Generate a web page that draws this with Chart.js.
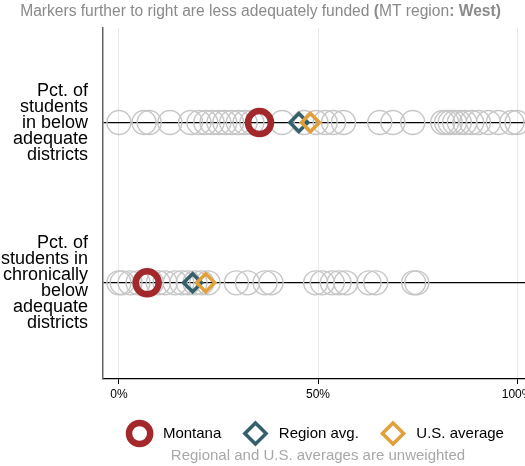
<!DOCTYPE html>
<html><head><meta charset="utf-8">
<script src="https://cdn.jsdelivr.net/npm/chart.js@4/dist/chart.umd.min.js"></script>
<style>
html,body{margin:0;padding:0;background:#fff;overflow:hidden;}
#wrap{width:540px;height:466px;position:relative;}
canvas{display:block;}
</style></head><body>
<div id="wrap"><canvas id="c" width="540" height="466" style="width:540px;height:466px"></canvas></div>
<script>
// ---- data ----
const rowLabels = [
  ["Pct. of","students","in below","adequate","districts"],
  ["Pct. of","students in","chronically","below","adequate","districts"]
];
const rowPositions = [2, 1];
const belowAdequate = [0, 6.3, 7.6, 12.8, 18, 20.1, 21.8, 23.4, 25.1, 26.6, 28.3, 30, 31.7, 33.4, 35.3, 41, 46.5, 49.5, 51.8, 53.9, 56.4, 65.5, 68.8, 73.8, 81.3, 82.3, 83.2, 84.3, 85.5, 86.9, 88.6, 90.3, 92.8, 95.3, 98.7, 100];
const chronicallyBelow = [0, 0.8, 2.8, 4.8, 6.5, 8.2, 9.9, 11.6, 14.1, 15.8, 17.4, 19.1, 20.8, 22.4, 29.5, 32.3, 36.7, 38.2, 49.4, 51.1, 53.6, 55.3, 57, 62.8, 64.5, 74, 74.8];
const montana = [35.3, 7.1];
const regionAvg = [45.2, 18.5];
const usAvg = [48.1, 21.8];
const xTicks = [0, 50, 100];
const seriesNames = ["Montana", "Region avg.", "U.S. average"];
const titleParts = [
  ["Markers further to right are less adequately funded ", "normal"],
  ["(", "bold"], ["MT region", "normal"], [": ", "bold"], ["West)", "bold"]
];
const caption = "Regional and U.S. averages are unweighted";

// ---- build ----
const rowSeries = [belowAdequate, chronicallyBelow];
const districtPts = [];
rowSeries.forEach((arr, i) => arr.forEach(v => districtPts.push({x: v, y: rowPositions[i]})));
const toPts = arr => arr.map((v, i) => ({x: v, y: rowPositions[i]}));

const FONT = "'Liberation Sans', Arial, Helvetica, sans-serif";
const clear = 'rgba(0,0,0,0)';

const titlePlugin = {
  id: 'mixedTitle',
  afterDraw(chart) {
    const ctx = chart.ctx;
    ctx.save();
    ctx.fillStyle = '#8a8a8a';
    ctx.textBaseline = 'middle';
    const size = 15.6;
    let total = 0;
    const widths = titleParts.map(([t, w]) => { ctx.font = w + ' ' + size + 'px ' + FONT; const m = ctx.measureText(t).width; total += m; return m; });
    let x = 260.5 - total / 2;
    titleParts.forEach(([t, w], i) => { ctx.font = w + ' ' + size + 'px ' + FONT; ctx.fillText(t, x, 12); x += widths[i]; });
    ctx.restore();
  }
};

const ds = (label, data, style, radius, bw, color, order) => ({
  label, data, pointStyle: style, pointRadius: radius, pointHoverRadius: radius,
  pointBorderWidth: bw, pointHoverBorderWidth: bw, borderWidth: bw,
  borderColor: color, pointBorderColor: color,
  backgroundColor: clear, pointBackgroundColor: clear, showLine: false, order
});

const noPad = s => { s.paddingTop = 0; s.paddingBottom = 0; s.paddingLeft = 0; s.paddingRight = 0; };

new Chart(document.getElementById('c'), {
  type: 'scatter',
  data: {
    datasets: [
      ds('Districts', districtPts, 'circle', 12, 1.4, '#c6c6c6', 4),
      ds(seriesNames[0], toPts(montana), 'circle', 11.5, 6.5, '#a3282c', 3),
      ds(seriesNames[1], toPts(regionAvg), 'rectRot', 9, 3.5, '#33606a', 2),
      ds(seriesNames[2], toPts(usAvg), 'rectRot', 9, 3.5, '#e2a03a', 1)
    ]
  },
  options: {
    responsive: false, maintainAspectRatio: false, animation: false, events: [],
    devicePixelRatio: 1,
    layout: {autoPadding: false, padding: {top: 28, right: 7, left: 0, bottom: 0}},
    scales: {
      x: {
        type: 'linear', min: -4, max: 104,
        afterBuildTicks: s => { s.ticks = xTicks.map(v => ({value: v})); },
        afterFit: s => { s.height = 37; noPad(s); },
        ticks: {callback: v => v + '%', font: {family: FONT, size: 12}, color: '#000', padding: 3, maxRotation: 0},
        grid: {color: '#e8e8e8', lineWidth: 1, drawTicks: true, tickLength: 5, tickColor: '#000'},
        border: {color: '#000', width: 1.3}
      },
      y: {
        type: 'linear', min: 0.4, max: 2.59,
        afterBuildTicks: s => { s.ticks = rowPositions.map(v => ({value: v})); },
        afterFit: s => { s.width = 103; noPad(s); },
        ticks: {callback: v => rowLabels[rowPositions.indexOf(v)], font: {family: FONT, size: 18, lineHeight: 0.889}, color: '#000', padding: 15},
        grid: {color: '#000', lineWidth: 1.3, drawTicks: false},
        border: {color: '#666', width: 1.5}
      }
    },
    plugins: {
      tooltip: {enabled: false},
      legend: {
        position: 'bottom', fullSize: false,
        labels: {
          usePointStyle: true, color: '#000', padding: 10,
          font: {family: FONT, size: 15},
          filter: item => item.datasetIndex > 0,
          sort: (a, b) => a.datasetIndex - b.datasetIndex,
          generateLabels: chart => Chart.defaults.plugins.legend.labels.generateLabels(chart).map(l => {
            l.text = '  ' + l.text + (l.datasetIndex < 3 ? '    ' : '');
            return l;
          })
        }
      },
      subtitle: {
        display: true, text: caption, position: 'bottom', fullSize: false,
        color: '#a8a8a8', font: {family: FONT, size: 15, lineHeight: 1, weight: 'normal'},
        padding: {top: -3, bottom: 3}
      }
    }
  },
  plugins: [titlePlugin]
});
</script>
</body></html>
